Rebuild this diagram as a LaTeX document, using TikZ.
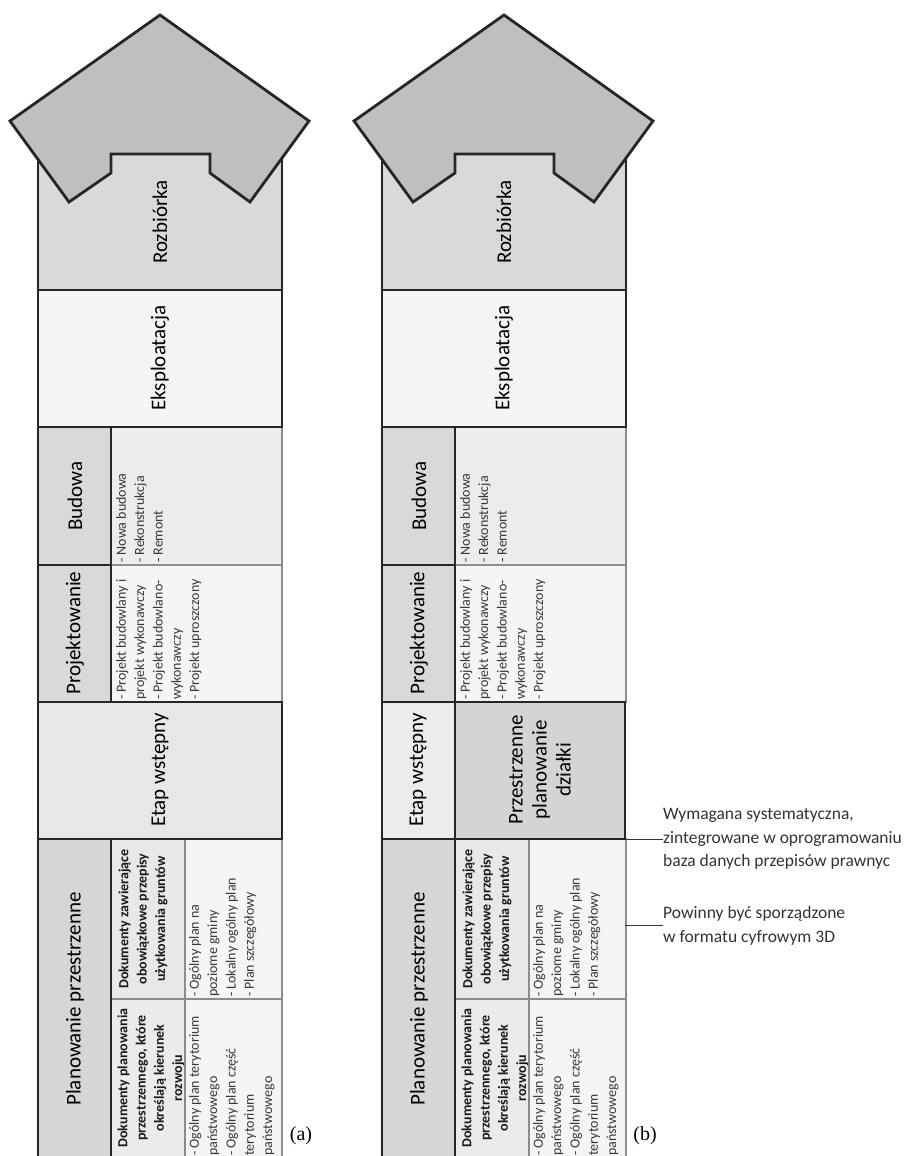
\documentclass[tikz,border=0pt]{standalone}
\usepackage{fontspec}
\setmainfont{Carlito}
\newfontfamily\capfont{Liberation Serif}
\usetikzlibrary{positioning}

\tikzset{
  heavy/.style = {draw=black!85, line width=2.8pt, line join=miter},
  light/.style = {draw=black!45, line width=1.1pt},
  biglbl/.style = {rotate=90, inner sep=0pt, text=black, font=\fontsize{21}{24}\selectfont},
  items/.style = {rotate=90, anchor=north west, align=left, inner sep=1pt, text=black!78, font=\fontsize{14}{18.3}\selectfont},
  head/.style = {rotate=90, align=center, inner sep=1pt, text=black!90, font=\fontsize{14}{18.3}\selectfont\bfseries},
  note/.style = {anchor=west, align=left, inner sep=0pt, text=black!80, font=\fontsize{17.5}{23.5}\selectfont},
  tag/.style = {inner sep=0pt, font=\capfont\fontsize{20}{24}\selectfont}
}

\begin{document}
\begin{tikzpicture}[x=1pt, y=-1pt]
\clip (0,0) rectangle (912,1156);
\fill[white] (0,0) rectangle (912,1156);

\foreach \p/\dx in {a/0, b/344} {
\begin{scope}[xshift=\dx pt]
\draw[light, fill=gray!15] (111,427) rectangle (282,565);
\draw[light, fill=gray!8] (111,565) rectangle (282,702);
\draw[light, fill=gray!18] (111,839) rectangle (185,999);
\draw[light, fill=gray!16] (111,999) rectangle (185,1170);
\draw[light, fill=gray!8] (185,839) rectangle (282,999);
\draw[light, fill=gray!8] (185,999) rectangle (282,1170);
\draw[heavy, fill=gray!30] (38,130) rectangle (282,290);
\draw[heavy, fill=gray!9] (38,290) rectangle (282,427);
\draw[heavy, fill=gray!30] (38,427) rectangle (111,565);
\draw[heavy, fill=gray!30] (38,565) rectangle (111,702);
\draw[heavy, fill=gray!32] (38,839) rectangle (111,1170);
\draw[heavy, fill=gray!50] (160,15) -- (309,121) -- (250,202) -- (210,173) -- (210,154)
  -- (111,154) -- (111,173) -- (69,202) -- (10,121) -- cycle;

\node[biglbl] (roz-\p) at (160,222) {Rozbiórka};
\node[biglbl] (eks-\p) at (160,358) {Eksploatacja};
\node[biglbl] (bud-\p) at (75,496) {Budowa};
\node[biglbl] (proj-\p) at (75,633) {Projektowanie};
\node[biglbl] (plan-\p) at (75,999) {Planowanie przestrzenne};
\node[items] (budl-\p) at (115,564) {- Nowa budowa\\- Rekonstrukcja\\- Remont};
\node[items] (projl-\p) at (115,701) {- Projekt budowlany i\\projekt wykonawczy\\- Projekt budowlano-\\wykonawczy\\- Projekt uproszczony};
\node[head] (dok1-\p) at (143,919) {Dokumenty zawierające\\obowiązkowe przepisy\\użytkowania gruntów};
\node[head] (dok2-\p) at (151,1078) {Dokumenty planowania\\przestrzennego, które\\określają kierunek\\rozwoju};
\node[items] (gm-\p) at (188,998) {- Ogólny plan na\\poziome gminy\\- Lokalny ogólny plan\\- Plan szczegółowy};
\node[items] (pn-\p) at (188,1157) {- Ogólny plan terytorium\\państwowego\\- Ogólny plan część\\terytorium\\państwowego};
\node[tag] (tag-\p) at (301,1136) {(\p)};
\end{scope}
}

\draw[heavy, fill=gray!19] (38,702) rectangle (282,839);
\node[biglbl] (etap-a) at (160,770) {Etap wstępny};

\draw[heavy, fill=gray!15] (382,702) rectangle (455,839);
\draw[heavy, fill=gray!34] (455,702) rectangle (625,839);
\node[biglbl] (etap-b) at (418,770) {Etap wstępny};
\node[biglbl, align=center] (dzialka) at (540,770) {Przestrzenne\\planowanie\\działki};

\coordinate (baza-in) at (625,839);
\coordinate (cyfr-in) at (625,925);
\node[note] (baza) at (663,839) {Wymagana systematyczna,\\zintegrowane w oprogramowaniu\\baza danych przepisów prawnyc};
\node[note] (cyfr) at (663,926) {Powinny być sporządzone\\w formatu cyfrowym 3D};
\draw[black!80, line width=1pt] (baza-in) -- (baza.west);
\draw[black!80, line width=1pt] (cyfr-in) -- (cyfr.west |- cyfr-in);
\end{tikzpicture}
\end{document}
